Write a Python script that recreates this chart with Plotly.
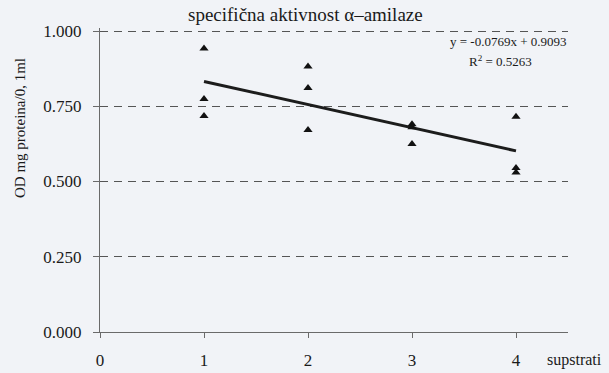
import plotly.graph_objects as go

# Data
substrate = [1, 1, 1, 2, 2, 2, 3, 3, 3, 4, 4, 4]
activity = [0.942, 0.774, 0.718, 0.882, 0.811, 0.671, 0.690, 0.680, 0.625, 0.715, 0.545, 0.530]

slope = -0.0769
intercept = 0.9093
r2 = 0.5263
trend_x = [1, 4]
trend_y = [slope * x + intercept for x in trend_x]

x_ticks = [0, 1, 2, 3, 4]
y_ticks = [0.0, 0.25, 0.5, 0.75, 1.0]
y_tick_text = ["0.000", "0.250", "0.500", "0.750", "1.000"]

title_text = "specifična aktivnost α–amilaze"
y_title = "OD mg proteina/0, 1ml"
x_title = "supstrati"

FONT = "Liberation Serif"
BG = "#f1f3f7"
AXIS = "#6a6a6a"

# plot area geometry (pixels)
L, R, T, B = 100, 41, 28, 41
PW = 609 - L - R
PH = 373 - T - B
Y_TOP = 1.01


def px_x(p):
    return (p - L) / PW


def px_y(p):
    # pixel row -> paper y, with y=0 at row 332
    return (332 - p) / PH


fig = go.Figure()

fig.add_trace(go.Scatter(
    x=trend_x, y=trend_y, mode="lines",
    line=dict(color="#1c1c1c", width=3),
    hoverinfo="skip", showlegend=False,
))
fig.add_trace(go.Scatter(
    x=substrate, y=activity, mode="markers",
    marker=dict(symbol="triangle-up", size=8, color="#111111"),
    showlegend=False,
))

fig.update_layout(
    width=609, height=373,
    margin=dict(l=L, r=R, t=T, b=B),
    paper_bgcolor=BG, plot_bgcolor=BG,
    font=dict(family=FONT, size=14, color="#1a1a1a"),
    showlegend=False,
    xaxis=dict(
        range=[0, 4.5], tickvals=x_ticks, ticktext=[str(v) for v in x_ticks],
        showgrid=False, zeroline=False, automargin=False,
        showline=True, linecolor=AXIS, linewidth=1.2,
        ticks="outside", ticklen=5, tickcolor=AXIS, tickwidth=1.2,
        ticklabelstandoff=7,
        tickfont=dict(family=FONT, size=17, color="#1a1a1a"),
    ),
    yaxis=dict(
        range=[0, Y_TOP], tickvals=y_ticks, ticktext=y_tick_text,
        showgrid=True, gridcolor="#555555", gridwidth=1.2, griddash="8px,6px",
        zeroline=False, automargin=False,
        showline=True, linecolor=AXIS, linewidth=1.2,
        ticks="outside", ticklen=6, tickcolor=AXIS, tickwidth=1.2,
        ticklabelstandoff=8,
        tickfont=dict(family=FONT, size=17, color="#1a1a1a"),
    ),
    annotations=[
        dict(text=title_text, xref="paper", yref="paper",
             x=px_x(305), y=px_y(15),
             xanchor="center", yanchor="middle", showarrow=False,
             font=dict(family=FONT, size=19)),
        dict(text=y_title, xref="paper", yref="paper",
             x=px_x(20), y=px_y(128),
             xanchor="center", yanchor="middle", textangle=-90, showarrow=False,
             font=dict(family=FONT, size=15)),
        dict(text=x_title, xref="paper", yref="paper",
             x=px_x(545), y=px_y(360),
             xanchor="left", yanchor="middle", showarrow=False,
             font=dict(family=FONT, size=16)),
        dict(text="y = %.4fx + %.4f" % (slope, intercept), xref="paper", yref="paper",
             x=px_x(508), y=px_y(42),
             xanchor="center", yanchor="middle", showarrow=False,
             font=dict(family=FONT, size=13)),
        dict(text="R<sup>2</sup> = %.4f" % r2, xref="paper", yref="paper",
             x=px_x(500), y=px_y(61),
             xanchor="center", yanchor="middle", showarrow=False,
             font=dict(family=FONT, size=13)),
    ],
)

fig.write_html("out.html")
